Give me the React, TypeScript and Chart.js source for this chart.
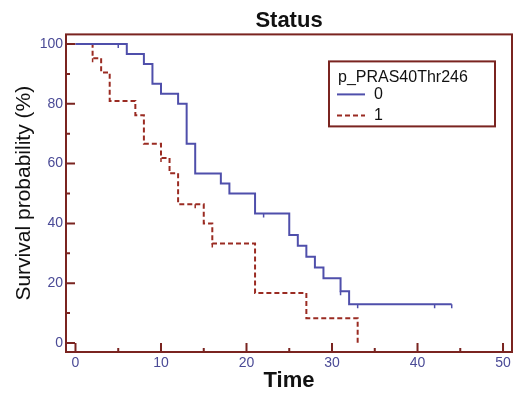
import { useEffect, useRef } from 'react';
import { Chart, registerables } from 'chart.js';

Chart.register(...registerables);

// ---- data ----
const chartTitle = 'Status';
const legendTitle = 'p_PRAS40Thr246';
const groupLabels = ['0', '1'];

const group0Times = [0, 6, 8, 9, 10, 12, 13, 14, 17, 18, 21, 25, 26, 27, 28, 29, 31, 32, 44];
const group0Survival = [100, 96.67, 93.33, 86.67, 83.33, 80, 66.67, 56.67, 53.33, 50, 43.33, 36.11, 32.5, 28.89, 25.28, 21.67, 17.33, 13.0, 13.0];
const group0CensorTimes = [5, 22, 31, 33, 42, 44];
const group0CensorSurvival = [100, 43.33, 17.33, 13.0, 13.0, 13.0];

const group1Times = [0, 2, 3, 4, 7, 8, 10, 11, 12, 15, 16, 21, 27, 33];
const group1Survival = [100, 95.24, 90.48, 80.95, 76.19, 66.67, 61.9, 56.75, 46.43, 40.0, 33.3, 16.7, 8.3, 0];
const group1CensorTimes = [2, 10, 14, 16];
const group1CensorSurvival = [95.24, 61.9, 46.43, 33.3];

const xTickValues = [0, 10, 20, 30, 40, 50];
const xMinorTickValues = [5, 15, 25, 35, 45];
const yTickValues = [0, 20, 40, 60, 80, 100];
const yMinorTickValues = [10, 30, 50, 70, 90];

// ---- styles ----
const FONT = "'Liberation Sans', Arial, sans-serif";
const FRAME = '#7a2420';
const BLUE = '#4f4fab';
const RED = '#9a2b22';
const TICK_LABEL = '#4a4a96';

const toPoints = (xs: number[], ys: number[]) => xs.map((x, i) => ({ x, y: ys[i] }));

const framePlugin = {
  id: 'frameTicksLegend',
  afterDraw(chart: any) {
    const { ctx, chartArea, scales } = chart;
    const xs = scales.x;
    const ys = scales.y;
    ctx.save();
    // inward ticks
    ctx.strokeStyle = FRAME;
    ctx.lineWidth = 2;
    ctx.beginPath();
    xTickValues.forEach((v) => {
      const p = xs.getPixelForValue(v);
      ctx.moveTo(p, chartArea.bottom);
      ctx.lineTo(p, chartArea.bottom - 9);
    });
    xMinorTickValues.forEach((v) => {
      const p = xs.getPixelForValue(v);
      ctx.moveTo(p, chartArea.bottom);
      ctx.lineTo(p, chartArea.bottom - 4);
    });
    yTickValues.forEach((v) => {
      const p = ys.getPixelForValue(v);
      ctx.moveTo(chartArea.left, p);
      ctx.lineTo(chartArea.left + 9, p);
    });
    yMinorTickValues.forEach((v) => {
      const p = ys.getPixelForValue(v);
      ctx.moveTo(chartArea.left, p);
      ctx.lineTo(chartArea.left + 4, p);
    });
    ctx.stroke();
    // frame
    ctx.strokeRect(chartArea.left, chartArea.top, chartArea.right - chartArea.left, chartArea.bottom - chartArea.top);

    // legend box
    const bx = chartArea.right - 183;
    const by = chartArea.top + 27;
    const bw = 166;
    const bh = 65;
    ctx.fillStyle = '#ffffff';
    ctx.fillRect(bx, by, bw, bh);
    ctx.strokeStyle = FRAME;
    ctx.lineWidth = 2;
    ctx.strokeRect(bx, by, bw, bh);
    ctx.fillStyle = '#111111';
    ctx.font = `16px ${FONT}`;
    ctx.textBaseline = 'middle';
    ctx.textAlign = 'left';
    ctx.fillText(legendTitle, bx + 9, by + 16);
    const mains = chart.data.datasets.filter((d: any) => d.isMain);
    mains.forEach((d: any, i: number) => {
      const yy = by + 33 + i * 21;
      ctx.beginPath();
      ctx.strokeStyle = d.borderColor;
      ctx.lineWidth = 2;
      ctx.setLineDash(d.borderDash || []);
      ctx.moveTo(bx + 8, yy);
      ctx.lineTo(bx + 36, yy);
      ctx.stroke();
      ctx.setLineDash([]);
      ctx.fillStyle = '#111111';
      ctx.fillText(d.label, bx + 45, yy);
    });
    ctx.restore();
  },
};

export default function App() {
  const canvasRef = useRef<HTMLCanvasElement | null>(null);

  useEffect(() => {
    document.body.style.margin = '0';
    const canvas = canvasRef.current;
    if (!canvas) return;
    const chart = new Chart(canvas, {
      type: 'line',
      data: {
        datasets: [
          {
            label: groupLabels[0],
            isMain: true,
            data: toPoints(group0Times, group0Survival),
            borderColor: BLUE,
            borderWidth: 2,
            stepped: true,
            pointRadius: 0,
            fill: false,
          } as any,
          {
            label: groupLabels[1],
            isMain: true,
            data: toPoints(group1Times, group1Survival),
            borderColor: RED,
            borderWidth: 2,
            borderDash: [5, 3],
            stepped: true,
            pointRadius: 0,
            fill: false,
          } as any,
          {
            label: 'censored 0',
            data: toPoints(group0CensorTimes, group0CensorSurvival),
            showLine: false,
            pointStyle: 'dash',
            pointRadius: 4,
            pointHoverRadius: 4,
            pointRotation: 90,
            pointBorderColor: BLUE,
            pointBackgroundColor: BLUE,
            pointBorderWidth: 1.5,
            borderColor: BLUE,
          } as any,
          {
            label: 'censored 1',
            data: toPoints(group1CensorTimes, group1CensorSurvival),
            showLine: false,
            pointStyle: 'dash',
            pointRadius: 4,
            pointHoverRadius: 4,
            pointRotation: 90,
            pointBorderColor: RED,
            pointBackgroundColor: RED,
            pointBorderWidth: 1.5,
            borderColor: RED,
          } as any,
        ],
      },
      options: {
        animation: false,
        responsive: false,
        devicePixelRatio: 1,
        layout: { autoPadding: false, padding: { left: 0, right: 3, top: 0, bottom: 0 } },
        plugins: {
          legend: { display: false },
          tooltip: { enabled: false },
          title: {
            display: true,
            text: chartTitle,
            fullSize: false,
            color: '#111111',
            font: { family: FONT, size: 22, weight: 'bold' },
            padding: { top: 8, bottom: 0 },
          },
        },
        scales: {
          x: {
            type: 'linear',
            min: -1.11,
            max: 51.05,
            grid: { display: false, drawTicks: false },
            border: { display: false },
            afterBuildTicks: (s: any) => {
              s.ticks = xTickValues.map((v) => ({ value: v }));
            },
            afterFit: (s: any) => {
              s.height = 43;
              s.paddingLeft = 0;
              s.paddingRight = 0;
            },
            ticks: {
              color: TICK_LABEL,
              font: { family: FONT, size: 14 },
              padding: 3,
              maxRotation: 0,
              autoSkip: false,
            },
            title: {
              display: true,
              text: 'Time',
              color: '#111111',
              font: { family: FONT, size: 22, weight: 'bold' },
              padding: { top: 0, bottom: 1 },
            },
          },
          y: {
            type: 'linear',
            min: -3.0,
            max: 103.2,
            grid: { display: false, drawTicks: false },
            border: { display: false },
            afterBuildTicks: (s: any) => {
              s.ticks = yTickValues.map((v) => ({ value: v }));
            },
            afterFit: (s: any) => {
              s.width = 66;
              s.paddingTop = 0;
              s.paddingBottom = 0;
            },
            ticks: {
              color: TICK_LABEL,
              font: { family: FONT, size: 14 },
              padding: 3,
              autoSkip: false,
            },
            title: {
              display: true,
              text: 'Survival probability (%)',
              color: '#111111',
              font: { family: FONT, size: 21 },
              padding: { top: 12, bottom: 0 },
            },
          },
        },
      } as any,
      plugins: [framePlugin],
    });
    return () => chart.destroy();
  }, []);

  return (
    <div style={{ width: 515, height: 395 }}>
      <canvas ref={canvasRef} width={515} height={395} style={{ display: 'block' }} />
    </div>
  );
}
